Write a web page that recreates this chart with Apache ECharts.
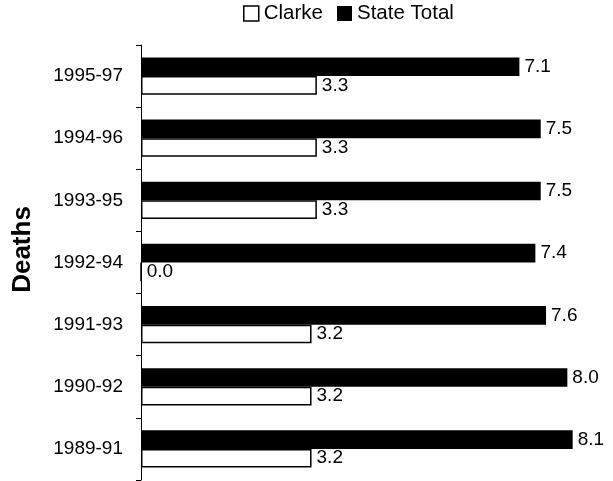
<!DOCTYPE html>
<html><head><meta charset="utf-8">
<script src="https://cdn.jsdelivr.net/npm/echarts@6/dist/echarts.min.js"></script>
<style>html,body{margin:0;padding:0;background:#fff}#c{width:613px;height:481px}</style>
</head><body><div id="c"></div>
<script>
const categories = ['1989-91','1990-92','1991-93','1992-94','1993-95','1994-96','1995-97'];
const clarke = [3.2, 3.2, 3.2, 0.0, 3.3, 3.3, 3.3];
const stateTotal = [8.1, 8.0, 7.6, 7.4, 7.5, 7.5, 7.1];
const font = 'Liberation Sans, Arial, sans-serif';
const chart = echarts.init(document.getElementById('c'), null, {renderer:'canvas'});
const lbl = {show:true, position:'right', distance:5, color:'#000', fontFamily:font, fontSize:19,
  formatter: p => p.value.toFixed(1)};
chart.setOption({
  animation:false,
  legend:{top:3, left:243, itemWidth:15, itemHeight:15, itemGap:14, padding:0,
    textStyle:{fontFamily:font, fontSize:20.5, color:'#000'},
    data:[{name:'Clarke', icon:'rect', itemStyle:{color:'#fff', borderColor:'#000', borderWidth:1.5}},
          {name:'State Total', icon:'rect'}]},
  grid:{left:141, right:19, top:45, bottom:1, containLabel:false},
  xAxis:{type:'value', min:0, max:8.5, show:false},
  yAxis:{type:'category', data:categories, name:'Deaths', nameLocation:'middle', nameGap:105,
    nameTextStyle:{fontFamily:font, fontSize:26, fontWeight:'bold', color:'#000', padding:[0,0,0,26]},
    axisLine:{lineStyle:{color:'#000', width:1}},
    axisTick:{show:true, length:5, lineStyle:{color:'#000'}},
    axisLabel:{margin:18, color:'#000', fontFamily:font, fontSize:19}},
  series:[
    {name:'State Total', type:'bar', data:stateTotal, barCategoryGap:'40%', barGap:'0%',
      itemStyle:{color:'#000'}, label:lbl},
    {name:'Clarke', type:'bar', data:clarke, barGap:'0%',
      itemStyle:{color:'#fff', borderColor:'#000', borderWidth:1.5}, label:lbl}
  ]
});
</script></body></html>
